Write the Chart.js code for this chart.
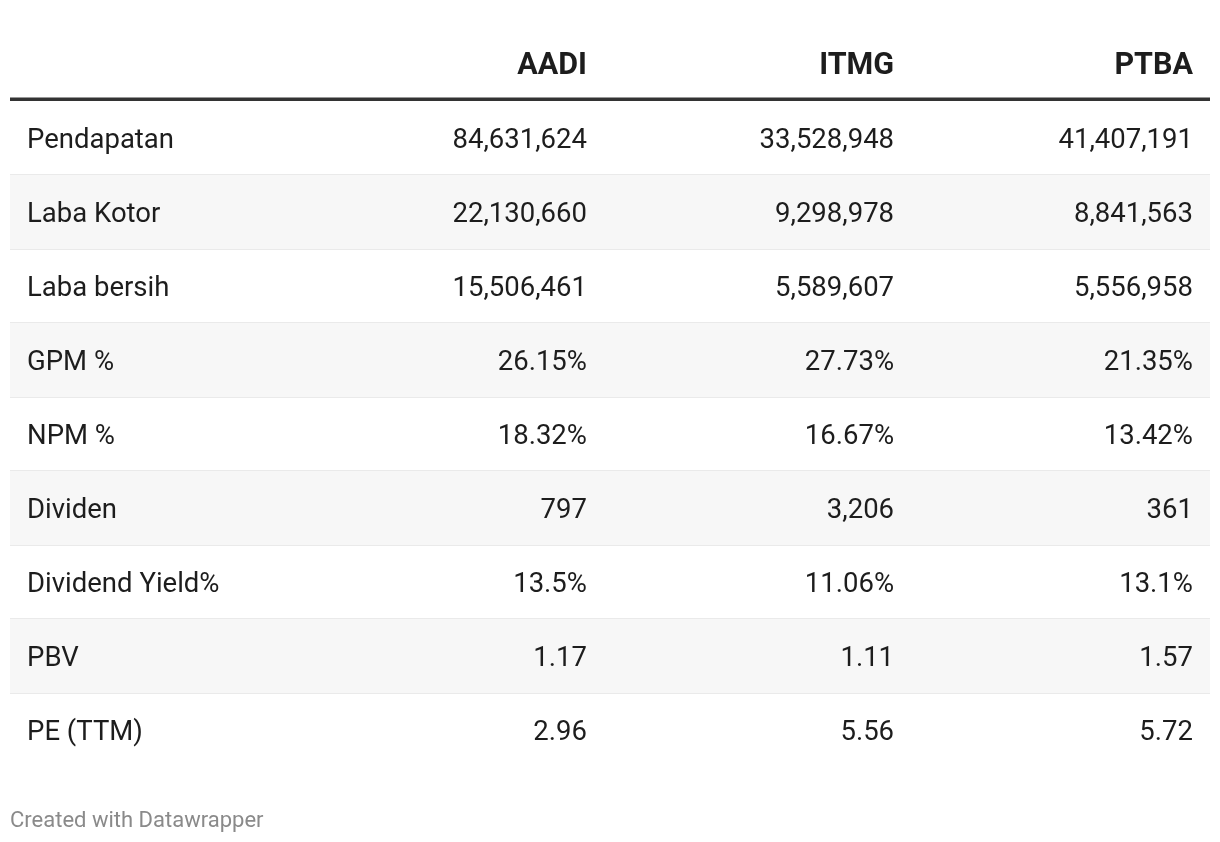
<!DOCTYPE html>
<html>
<head>
<meta charset="utf-8">
<script src="https://cdn.jsdelivr.net/npm/chart.js@4"></script>
<style>
  html, body { margin: 0; padding: 0; background: #ffffff; }
  #wrap { width: 1220px; height: 842px; position: relative; }
</style>
</head>
<body>
<div id="wrap"><canvas id="c" width="1220" height="842"></canvas></div>
<script>
// ---- data ----
const rowLabels = ['Pendapatan', 'Laba Kotor', 'Laba bersih', 'GPM %', 'NPM %', 'Dividen', 'Dividend Yield%', 'PBV', 'PE (TTM)'];
const columnLabels = ['AADI', 'ITMG', 'PTBA'];
const aadiValues = [84631624, 22130660, 15506461, 26.15, 18.32, 797, 13.5, 1.17, 2.96];
const itmgValues = [33528948, 9298978, 5589607, 27.73, 16.67, 3206, 11.06, 1.11, 5.56];
const ptbaValues = [41407191, 8841563, 5556958, 21.35, 13.42, 361, 13.1, 1.57, 5.72];
const rowUnits = ['', '', '', '%', '%', '', '%', '', ''];
const footerText = 'Created with Datawrapper';

// ---- layout (not data) ----
const FONT = 'Roboto, "Noto Sans", sans-serif';
const BODY_SIZE = 27.5;
const HEAD_SIZE = 30.5;
const FOOT_SIZE = 22;
const TEXT_COLOR = '#1d1d1d';
const labelAnchor = 0.0142;                 // fraction of table width (left aligned)
const colAnchors = [0.4808, 0.7367, 0.9858]; // fraction of table width (right aligned)

const seriesValues = [aadiValues, itmgValues, ptbaValues];
const fmt = (v, unit) => v.toLocaleString('en-US', { maximumFractionDigits: 2 }) + unit;

const stripeData = rowLabels.map((_, i) => (i % 2 === 1 ? [0, 1] : null));

const tablePlugin = {
  id: 'tablePlugin',
  afterDraw(chart) {
    const ctx = chart.ctx;
    const xs = chart.scales.x;
    const ys = chart.scales.y;
    const area = chart.chartArea;
    const rowH = ys.getPixelForValue(1) - ys.getPixelForValue(0);
    ctx.save();
    // thick header rule
    ctx.fillStyle = '#333333';
    ctx.fillRect(xs.getPixelForValue(0), area.top - 3.5, xs.getPixelForValue(1) - xs.getPixelForValue(0), 3.5);

    ctx.textBaseline = 'middle';
    // header
    const headY = ys.getPixelForValue(0) - rowH + 2;
    ctx.font = 'bold ' + HEAD_SIZE + 'px ' + FONT;
    ctx.fillStyle = TEXT_COLOR;
    ctx.textAlign = 'right';
    columnLabels.forEach((c, j) => {
      ctx.fillText(c, xs.getPixelForValue(colAnchors[j]), headY);
    });

    // body
    ctx.font = BODY_SIZE + 'px ' + FONT;
    rowLabels.forEach((lab, i) => {
      const y = ys.getPixelForValue(i) + 3;
      ctx.textAlign = 'left';
      ctx.fillText(lab, xs.getPixelForValue(labelAnchor), y);
      ctx.textAlign = 'right';
      seriesValues.forEach((vals, j) => {
        ctx.fillText(fmt(vals[i], rowUnits[i]), xs.getPixelForValue(colAnchors[j]), y);
      });
    });

    // footer
    ctx.font = FOOT_SIZE + 'px ' + FONT;
    ctx.fillStyle = '#8a8a8a';
    ctx.textAlign = 'left';
    ctx.fillText(footerText, xs.getPixelForValue(0), 821);
    ctx.restore();
  }
};

new Chart(document.getElementById('c'), {
  type: 'bar',
  data: {
    labels: rowLabels,
    datasets: [{
      label: 'stripes',
      data: stripeData,
      backgroundColor: '#f7f7f7',
      borderWidth: 0,
      barPercentage: 1,
      categoryPercentage: 1
    }]
  },
  options: {
    indexAxis: 'y',
    responsive: false,
    animation: false,
    devicePixelRatio: 1,
    layout: { padding: { top: 101, bottom: 75, left: 10, right: 10 } },
    plugins: { legend: { display: false }, tooltip: { enabled: false } },
    scales: {
      x: { type: 'linear', min: 0, max: 1, display: false },
      y: {
        type: 'category',
        offset: true,
        z: 1,
        border: { display: false },
        ticks: { display: false },
        grid: {
          offset: true,
          drawTicks: false,
          lineWidth: 2,
          color: (c) => (c.index === undefined || c.index <= 0 || c.index >= rowLabels.length ? 'rgba(0,0,0,0)' : '#e6e6e6')
        },
        afterFit: (s) => { s.width = 0; }
      }
    }
  },
  plugins: [tablePlugin]
});
</script>
</body>
</html>
